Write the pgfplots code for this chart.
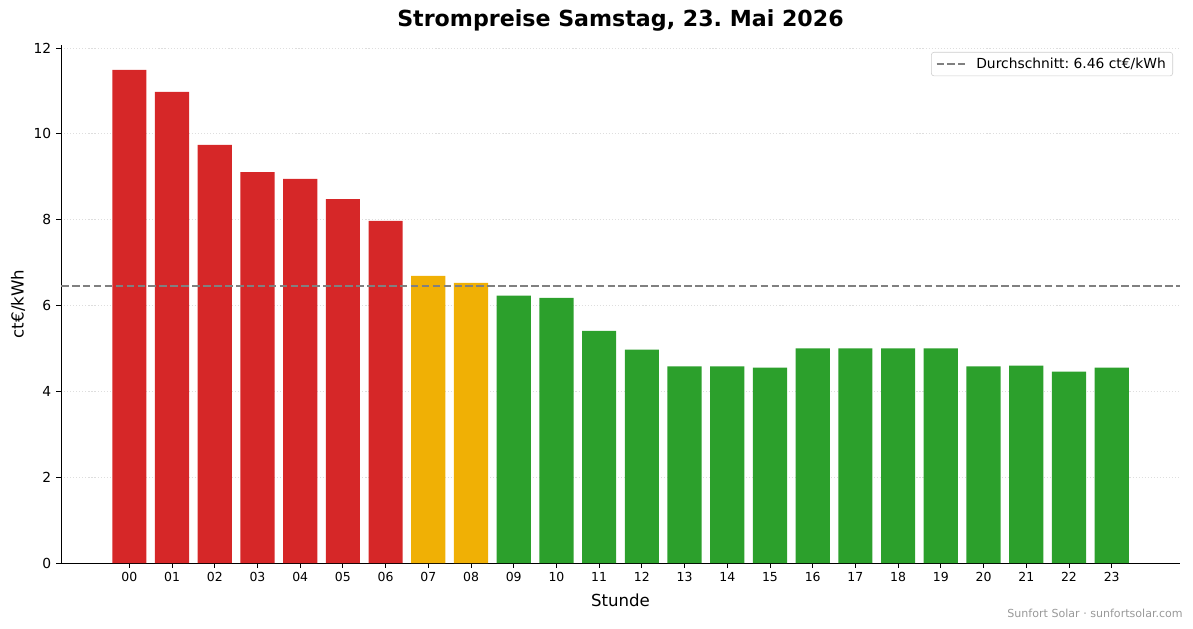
\documentclass[border=0pt]{standalone}
\usepackage{pgfplots}
\pgfplotsset{compat=1.18}
\usepackage{fontspec}
\setmainfont{DejaVu Sans}
\frenchspacing
\definecolor{hoch}{HTML}{D62728}
\definecolor{mittel}{HTML}{F0B005}
\definecolor{tief}{HTML}{2CA02C}
\pgfplotsset{avgleg/.style={legend image code/.code={\draw[##1] (0cm,0cm) -- (0.28in,0cm); \path (0.36in,0cm);}}}
\begin{document}
\begin{tikzpicture}
\useasboundingbox (-0.61in,-0.65in) rectangle (11.32in,5.63in);
\begin{axis}[
  scale only axis, width=11.19in, height=5.18in,
  anchor=south west, at={(0,0)},
  ybar, bar width=0.8, bar shift=0pt,
  xmin=-1.6, xmax=24.6, ymin=0, ymax=12.07,
  axis x line*=bottom, axis y line*=left,
  axis line style={line width=0.6pt},
  tick align=outside, major tick length=3.5pt,
  tick style={line width=0.6pt, black},
  xtick={0,...,23},
  xticklabels={00,01,02,03,04,05,06,07,08,09,10,11,12,13,14,15,16,17,18,19,20,21,22,23},
  ytick={0,2,...,12},
  ymajorgrids, major grid style={dash pattern=on 0.8pt off 1.4pt, black!13, line width=0.6pt},
  /pgf/number format/assume math mode=true,
  x tick label style={font=\fontsize{9}{11}\selectfont},
  y tick label style={font=\fontsize{10}{12}\selectfont},
  xlabel={Stunde}, ylabel={ct€/kWh},
  label style={font=\fontsize{12}{14}\selectfont},
  xlabel style={at={(axis description cs:0.5,0)}, anchor=center, yshift=-0.37in},
  ylabel style={at={(axis description cs:0,0.5)}, anchor=center, yshift=0.43in},
  title={\bfseries Strompreise Samstag, 23. Mai 2026},
  title style={font=\fontsize{16}{19}\selectfont, at={(axis description cs:0.5,1)}, anchor=center, yshift=0.16in},
  legend style={at={(1,1)}, anchor=north east, xshift=-0.07in, yshift=-0.07in,
    draw=black!20, rounded corners=2pt, font=\fontsize{10}{12}\selectfont,
    inner xsep=3pt, inner ysep=2pt},
  legend cell align=left,
]
\addplot[ybar, fill=hoch, draw=none, forget plot] coordinates
{(0,11.49) (1,10.98) (2,9.74) (3,9.11) (4,8.95) (5,8.48) (6,7.97)};
\addplot[ybar, fill=mittel, draw=none, forget plot] coordinates
{(7,6.69) (8,6.53)};
\addplot[ybar, fill=tief, draw=none, forget plot] coordinates
{(9,6.23) (10,6.18) (11,5.41) (12,4.97) (13,4.58) (14,4.58) (15,4.55)
 (16,5.00) (17,5.00) (18,5.00) (19,5.00) (20,4.58) (21,4.60) (22,4.46) (23,4.55)};
\addplot[sharp plot, draw=gray, line width=1.5pt, dash pattern=on 5.5pt off 2.4pt, avgleg] coordinates
{(-1.6,6.46) (24.6,6.46)};
\addlegendentry{Durchschnitt: 6.46 ct€/kWh}
\end{axis}
\node[anchor=east, inner sep=0pt, text=gray!80, font=\fontsize{8}{10}\selectfont] at (11.22in,-0.50in) {Sunfort Solar · sunfortsolar.com};
\end{tikzpicture}
\end{document}
